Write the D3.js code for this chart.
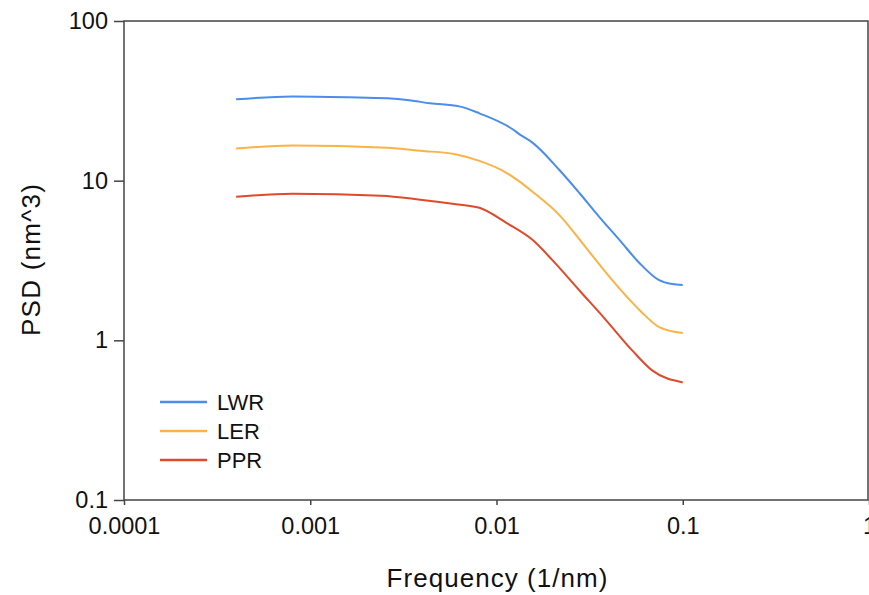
<!DOCTYPE html>
<html>
<head>
<meta charset="utf-8">
<script src="https://cdn.jsdelivr.net/npm/d3@7"></script>
<style>
  body { margin: 0; background: #fff; }
  text { font-family: "Liberation Sans", Arial, sans-serif; fill: #111; }
</style>
</head>
<body>
<svg id="chart" width="869" height="595"></svg>
<script>
// values
var xTicks = [0.0001, 0.001, 0.01, 0.1, 1];
var xTickLabels = ["0.0001", "0.001", "0.01", "0.1", "1"];
var yTicks = [0.1, 1, 10, 100];
var yTickLabels = ["0.1", "1", "10", "100"];

var lwrFreq = [0.0004, 0.0008, 0.0016, 0.0026, 0.0034, 0.0044, 0.0063, 0.0081, 0.0122, 0.0133, 0.0156, 0.0217, 0.0278, 0.0356, 0.0457, 0.0585, 0.0747, 0.0877, 0.1];
var lwr = [32.3, 33.7, 33.3, 32.8, 31.9, 30.5, 29.2, 26.4, 21.0, 19.5, 17.3, 11.7, 8.4, 5.94, 4.26, 3.05, 2.38, 2.25, 2.22];

var lerFreq = [0.0004, 0.0008, 0.0026, 0.0039, 0.0061, 0.0081, 0.0113, 0.0133, 0.0156, 0.0217, 0.0303, 0.0418, 0.0585, 0.0747, 0.1];
var ler = [15.9, 16.6, 16.1, 15.4, 14.6, 13.3, 11.2, 9.86, 8.53, 6.11, 3.79, 2.38, 1.55, 1.21, 1.11];

var pprFreq = [0.0004, 0.0008, 0.0024, 0.0039, 0.0058, 0.0081, 0.0113, 0.0156, 0.0199, 0.0278, 0.0387, 0.0535, 0.0685, 0.1];
var ppr = [7.93, 8.28, 8.05, 7.60, 7.17, 6.76, 5.44, 4.26, 3.19, 2.06, 1.34, 0.865, 0.648, 0.545];

var seriesNames = ["LWR", "LER", "PPR"];
var seriesColors = ["#4a8ded", "#fbb346", "#e0492a"];

var svg = d3.select("#chart");
var plotLeft = 124, plotRight = 869, plotTop = 21, plotBottom = 500;

var x = d3.scaleLog().domain([0.0001, 1]).range([plotLeft, plotRight]);
var y = d3.scaleLog().domain([0.1, 100]).range([plotBottom, plotTop]);

// frame
svg.append("rect")
	.attr("x", plotLeft).attr("y", plotTop)
	.attr("width", plotRight - plotLeft - 1).attr("height", plotBottom - plotTop)
	.attr("fill", "none").attr("stroke", "#444").attr("stroke-width", 1.5);

var xAxis = svg.append("g")
	.attr("transform", "translate(0," + plotBottom + ")")
	.call(d3.axisBottom(x).tickValues(xTicks).tickSize(5).tickPadding(12)
		.tickFormat(function(d, i) { return xTickLabels[i]; }));
xAxis.select(".domain").remove();
xAxis.selectAll("line").attr("stroke", "#444").attr("stroke-width", 1.5);
xAxis.selectAll("text").attr("font-size", 23.5).attr("fill", "#111")
	.attr("font-family", "Liberation Sans, Arial, sans-serif");

var yAxis = svg.append("g")
	.attr("transform", "translate(" + plotLeft + ",0)")
	.call(d3.axisLeft(y).tickValues(yTicks).tickSize(10).tickPadding(6)
		.tickFormat(function(d, i) { return yTickLabels[i]; }));
yAxis.select(".domain").remove();
yAxis.selectAll("line").attr("stroke", "#444").attr("stroke-width", 1.5);
yAxis.selectAll("text").attr("font-size", 23.5).attr("fill", "#111")
	.attr("font-family", "Liberation Sans, Arial, sans-serif");

// axis titles
svg.append("text")
	.attr("x", 497).attr("y", 587)
	.attr("text-anchor", "middle").attr("font-size", 26)
	.attr("textLength", 221)
	.text("Frequency (1/nm)");
svg.append("text")
	.attr("transform", "translate(40,260) rotate(-90)")
	.attr("text-anchor", "middle").attr("font-size", 26)
	.attr("textLength", 152)
	.text("PSD (nm^3)");

var line = d3.line()
	.x(function(d) { return x(d[0]); })
	.y(function(d) { return y(d[1]); })
	.curve(d3.curveMonotoneX);

var series = [
	d3.zip(lwrFreq, lwr),
	d3.zip(lerFreq, ler),
	d3.zip(pprFreq, ppr)
];

svg.selectAll("path.series")
	.data(series)
	.enter().append("path")
	.attr("class", "series")
	.attr("d", line)
	.attr("fill", "none")
	.attr("stroke", function(d, i) { return seriesColors[i]; })
	.attr("stroke-width", 2);

// legend
var legend = svg.selectAll("g.legend")
	.data(seriesNames)
	.enter().append("g")
	.attr("class", "legend")
	.attr("transform", function(d, i) { return "translate(160," + (402 + i * 29) + ")"; });
legend.append("line")
	.attr("x1", 0).attr("x2", 47)
	.attr("stroke", function(d, i) { return seriesColors[i]; })
	.attr("stroke-width", 2.5);
legend.append("text")
	.attr("x", 57).attr("y", 8)
	.attr("font-size", 22)
	.text(function(d) { return d; });
</script>
</body>
</html>
